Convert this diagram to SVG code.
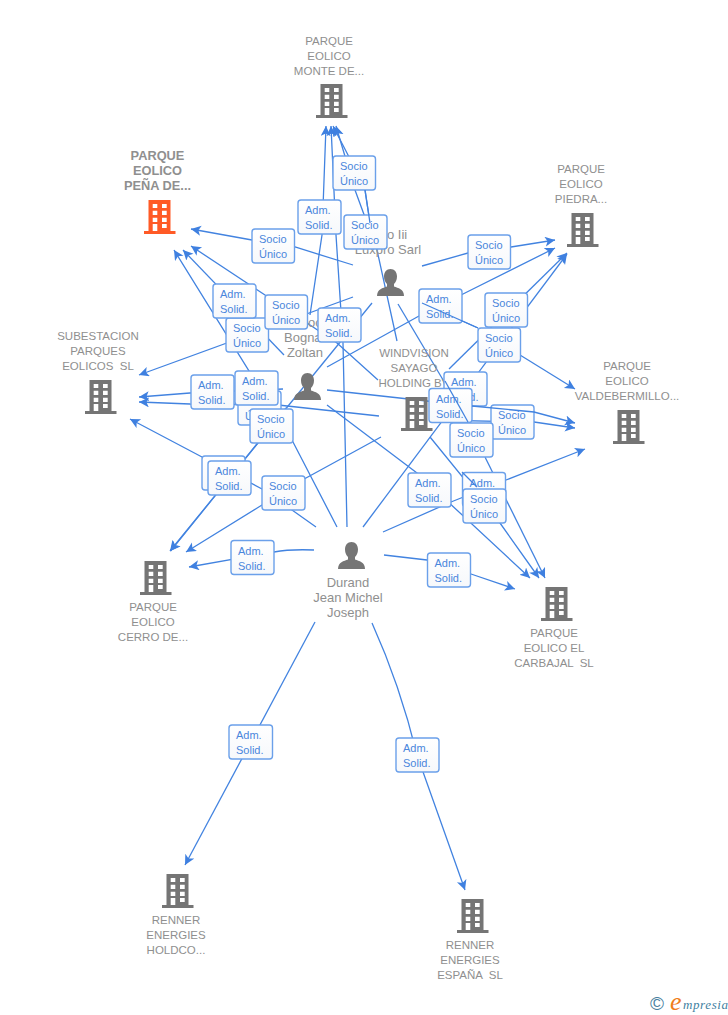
<svg xmlns="http://www.w3.org/2000/svg" width="728" height="1015" viewBox="0 0 728 1015">
<style>
text{font-family:"Liberation Sans",Arial,sans-serif}
.n{font-size:11.5px;fill:#8f8f8f;text-anchor:middle}
.nb{font-size:12.8px;font-weight:bold;fill:#8f8f8f;text-anchor:middle}
.p{font-size:13px;fill:#8f8f8f;text-anchor:middle}
.ps{font-size:13px;fill:#8f8f8f}
.c{fill:none;stroke:#4283e0;stroke-width:1.3;marker-end:url(#a)}
.o{fill:none;stroke:#4283e0;stroke-width:1.3}
.b{fill:url(#g);stroke:#6ba0ea;stroke-width:1.4}
.l{font-size:11px;fill:#4a86dc}
</style>
<defs>
<linearGradient id="g" x1="0" y1="0" x2="0" y2="1"><stop offset="0" stop-color="#fff"/><stop offset="1" stop-color="#f6f8fb"/></linearGradient>
<marker id="a" markerUnits="userSpaceOnUse" markerWidth="12" markerHeight="12" refX="10" refY="5" orient="auto"><path d="M0,0 L10,5 L0,10 L2.5,5 Z" fill="#3f80e0"/></marker>
<symbol id="bld" width="32" height="34" viewBox="0 0 32 34" overflow="visible">
<path fill-rule="evenodd" d="M4.500,0H26.500V31H31.500V34H0V31H4.500ZM8.700,4V8H13.300V4ZM18,4V8H22.700V4ZM8.700,10.700V15H13.300V10.700ZM18,10.700V15H22.700V10.700ZM8.700,17.700V22H13.300V17.700ZM18,17.700V22H22.700V17.700ZM8.700,24V31H13.300V24ZM18,24V28H22.700V24Z"/>
</symbol>
<symbol id="per" width="27" height="27" viewBox="0 0 27 27">
<path d="M13.500,0C17.500,0 20,3 20,7.500C20,11 18.500,13.500 17,15V17.500C21,19 27,20 27,27H0C0,20 6,19 10,17.500V15C8.500,13.500 7,11 7,7.500C7,3 9.500,0 13.500,0Z"/>
</symbol>
</defs>
<rect width="728" height="1015" fill="#fff"/>

<g id="connectors">
<path class="c" d="M310,315 L322,235 L326,126"/>
<path class="c" d="M347,527 L343,343 L336,235 L331,126"/>
<path class="c" d="M397,341 L377,250 L355,190 L336,126"/>
<path class="c" d="M370,223 L365,190 L348,155 L333,126"/>
<path class="c" d="M353,265 L295,247 L252,240 L191,229"/>
<path class="c" d="M378,380 L337,343 L265,295 L191,246"/>
<path class="c" d="M284,355 L183,250"/>
<path class="c" d="M337,527 L293,442 L174,250"/>
<path class="c" d="M353,297 L139,375"/>
<path class="c" d="M283,389 L190,393 L139,397"/>
<path class="c" d="M379,416 L278,405 L190,404 L139,402"/>
<path class="c" d="M316,527 L292,510 L262,489 L202,457 L130,419"/>
<path class="c" d="M372,303 L170,551"/>
<path class="c" d="M286,408 L170.500,551"/>
<path class="c" d="M381,437 L306,478 L262,505 L186,552"/>
<path class="c" d="M314,550 Q290,549 274,552 L189,567"/>
<path class="c" d="M315,622 L185,865"/>
<path class="c" d="M372,623 Q400,685 417,755 L465,890"/>
<path class="c" d="M384,555 L427,560 L471,574 L515,589"/>
<path class="c" d="M383,532 L451,502 L506,480 L585,449"/>
<path class="c" d="M363,527 L567,254"/>
<path class="c" d="M449,369 L567,253"/>
<path class="c" d="M327,367 L419,316 L463,294 L555,248"/>
<path class="c" d="M422,266 L468,253 L511,247 L555,240"/>
<path class="c" d="M520,355 L575,389"/>
<path class="c" d="M432,420 L534,422 L575,428"/>
<path class="o" d="M327,390 L472,406"/>
<path class="c" d="M327,405 L417,473 L530,578"/>
<path class="c" d="M430,437 L500,523 L539,578"/>
<path class="c" d="M485,457 L545,578"/>
<path class="o" d="M478,328 L422,303"/>
<path class="o" d="M398,304 L468,422"/>
</g>

<g id="node-monte"><use href="#bld" x="316" y="84" fill="#757575"/><text class="n" x="329" y="45">PARQUE</text><text class="n" x="329" y="60">EOLICO</text><text class="n" x="329" y="75">MONTE DE...</text></g>
<g id="node-pena"><use href="#bld" x="144" y="200" fill="#ff5a26"/><text class="nb" x="157.500" y="160">PARQUE</text><text class="nb" x="157.500" y="175">EOLICO</text><text class="nb" x="157.500" y="190">PEÑA DE...</text></g>
<g id="node-piedra"><use href="#bld" x="567" y="213" fill="#757575"/><text class="n" x="581" y="173">PARQUE</text><text class="n" x="581" y="188">EOLICO</text><text class="n" x="581" y="203">PIEDRA...</text></g>
<g id="node-subestacion"><use href="#bld" x="85" y="380" fill="#757575"/><text class="n" x="98" y="340">SUBESTACION</text><text class="n" x="98" y="355">PARQUES</text><text class="n" x="98" y="370" xml:space="preserve">EOLICOS  SL</text></g>
<g id="node-valdebermillo"><use href="#bld" x="613" y="410" fill="#757575"/><text class="n" x="627" y="370">PARQUE</text><text class="n" x="627" y="385">EOLICO</text><text class="n" x="627" y="400">VALDEBERMILLO...</text></g>
<g id="node-windvision"><use href="#bld" x="401" y="397" fill="#757575"/><text class="n" x="414" y="357">WINDVISION</text><text class="n" x="414" y="372">SAYAGO</text><text class="n" x="414" y="387">HOLDING BV</text></g>
<g id="node-cerro"><use href="#bld" x="140" y="561" fill="#757575"/><text class="n" x="153" y="611">PARQUE</text><text class="n" x="153" y="626">EOLICO</text><text class="n" x="153" y="641">CERRO DE...</text></g>
<g id="node-carbajal"><use href="#bld" x="541" y="587" fill="#757575"/><text class="n" x="554" y="637">PARQUE</text><text class="n" x="554" y="652">EOLICO EL</text><text class="n" x="554" y="667" xml:space="preserve">CARBAJAL  SL</text></g>
<g id="node-holdco"><use href="#bld" x="162" y="874" fill="#757575"/><text class="n" x="176" y="924">RENNER</text><text class="n" x="176" y="939">ENERGIES</text><text class="n" x="176" y="954">HOLDCO...</text></g>
<g id="node-espana"><use href="#bld" x="457" y="899" fill="#757575"/><text class="n" x="470" y="949">RENNER</text><text class="n" x="470" y="964">ENERGIES</text><text class="n" x="470" y="979" xml:space="preserve">ESPAÑA  SL</text></g>
<g id="node-luxpro"><use href="#per" x="377" y="269" fill="#757575"/><text class="ps" x="387" y="239">o Iii</text><text class="p" x="388" y="254">Luxpro Sarl</text></g>
<g id="node-bognar"><use href="#per" x="294" y="373" fill="#757575"/><text class="ps" x="308" y="327">oo</text><text class="ps" x="284" y="342">Bogna</text><text class="p" x="305" y="357">Zoltan</text></g>
<g id="node-durand"><use href="#per" x="338" y="542" fill="#757575"/><text class="p" x="348" y="587">Durand</text><text class="p" x="348" y="602">Jean Michel</text><text class="p" x="348" y="617">Joseph</text></g>

<g id="labels">
<g id="l1"><rect class="b" x="333" y="156" width="42.500" height="34" rx="3"/><text class="l" x="340" y="170">Socio</text><text class="l" x="340" y="185">Único</text></g>
<g id="l2"><rect class="b" x="298" y="200" width="43" height="34" rx="3"/><text class="l" x="305" y="214">Adm.</text><text class="l" x="305" y="229">Solid.</text></g>
<g id="l3"><rect class="b" x="344" y="215" width="43" height="34" rx="3"/><text class="l" x="351" y="229">Socio</text><text class="l" x="351" y="244">Único</text></g>
<g id="l4"><rect class="b" x="252" y="229" width="42.500" height="34" rx="3"/><text class="l" x="259" y="243">Socio</text><text class="l" x="259" y="258">Único</text></g>
<g id="l5"><rect class="b" x="468" y="235" width="42.500" height="34" rx="3"/><text class="l" x="475" y="249">Socio</text><text class="l" x="475" y="264">Único</text></g>
<g id="l6"><rect class="b" x="226" y="318" width="42.500" height="34" rx="3"/><text class="l" x="233" y="332">Socio</text><text class="l" x="233" y="347">Único</text></g>
<g id="l7"><rect class="b" x="213" y="284" width="43" height="34" rx="3"/><text class="l" x="220" y="298">Adm.</text><text class="l" x="220" y="313">Solid.</text></g>
<g id="l8"><rect class="b" x="265" y="295" width="42.500" height="34" rx="3"/><text class="l" x="272" y="309">Socio</text><text class="l" x="272" y="324">Único</text></g>
<g id="l9"><rect class="b" x="419" y="289" width="43" height="34" rx="3"/><text class="l" x="426" y="303">Adm.</text><text class="l" x="426" y="318">Solid.</text></g>
<g id="l10"><rect class="b" x="485" y="293" width="42.500" height="34" rx="3"/><text class="l" x="492" y="307">Socio</text><text class="l" x="492" y="322">Único</text></g>
<g id="l11"><rect class="b" x="318" y="308" width="43" height="34" rx="3"/><text class="l" x="325" y="322">Adm.</text><text class="l" x="325" y="337">Solid.</text></g>
<g id="l12"><rect class="b" x="478" y="328" width="42.500" height="34" rx="3"/><text class="l" x="485" y="342">Socio</text><text class="l" x="485" y="357">Único</text></g>
<g id="l13"><rect class="b" x="444" y="372" width="43" height="34" rx="3"/><text class="l" x="451" y="386">Adm.</text><text class="l" x="451" y="401">Solid.</text></g>
<g id="l14"><rect class="b" x="491" y="405" width="43" height="34" rx="3"/><text class="l" x="498" y="419">Socio</text><text class="l" x="498" y="434">Único</text></g>
<g id="l15"><rect class="b" x="429" y="388.500" width="43" height="34" rx="3"/><text class="l" x="436" y="402.500">Adm.</text><text class="l" x="436" y="417.500">Solid.</text></g>
<g id="l16"><rect class="b" x="191" y="375" width="43" height="34" rx="3"/><text class="l" x="198" y="389">Adm.</text><text class="l" x="198" y="404">Solid.</text></g>
<g id="l17"><rect class="b" x="238" y="391" width="43" height="34" rx="3"/><text class="l" x="245" y="405">Socio</text><text class="l" x="245" y="420">Único</text></g>
<g id="l18"><rect class="b" x="235" y="371" width="43" height="34" rx="3"/><text class="l" x="242" y="385">Adm.</text><text class="l" x="242" y="400">Solid.</text></g>
<g id="l19"><rect class="b" x="250" y="409" width="43" height="34" rx="3"/><text class="l" x="257" y="423">Socio</text><text class="l" x="257" y="438">Único</text></g>
<g id="l20"><rect class="b" x="450" y="423" width="43" height="34" rx="3"/><text class="l" x="457" y="437">Socio</text><text class="l" x="457" y="452">Único</text></g>
<g id="l21"><rect class="b" x="202" y="456" width="43" height="34" rx="3"/><text class="l" x="209" y="470">Adm.</text><text class="l" x="209" y="485">Solid.</text></g>
<g id="l22"><rect class="b" x="208" y="461" width="43" height="34" rx="3"/><text class="l" x="215" y="475">Adm.</text><text class="l" x="215" y="490">Solid.</text></g>
<g id="l23"><rect class="b" x="262" y="476" width="43" height="34" rx="3"/><text class="l" x="269" y="490">Socio</text><text class="l" x="269" y="505">Único</text></g>
<g id="l24"><rect class="b" x="408" y="473" width="43" height="34" rx="3"/><text class="l" x="415" y="487">Adm.</text><text class="l" x="415" y="502">Solid.</text></g>
<g id="l25"><rect class="b" x="462.500" y="472.500" width="43" height="34" rx="3"/><text class="l" x="469.500" y="486.500">Adm.</text><text class="l" x="469.500" y="501.500">Solid.</text></g>
<g id="l26"><rect class="b" x="463" y="489" width="43" height="34" rx="3"/><text class="l" x="470" y="503">Socio</text><text class="l" x="470" y="518">Único</text></g>
<g id="l27"><rect class="b" x="231" y="540.500" width="43" height="34" rx="3"/><text class="l" x="238" y="554.500">Adm.</text><text class="l" x="238" y="569.500">Solid.</text></g>
<g id="l28"><rect class="b" x="427.500" y="553" width="43" height="34" rx="3"/><text class="l" x="434.500" y="567">Adm.</text><text class="l" x="434.500" y="582">Solid.</text></g>
<g id="l29"><rect class="b" x="229" y="725" width="43.500" height="34" rx="3"/><text class="l" x="236" y="739">Adm.</text><text class="l" x="236" y="754">Solid.</text></g>
<g id="l30"><rect class="b" x="396" y="738" width="43" height="34" rx="3"/><text class="l" x="403" y="752">Adm.</text><text class="l" x="403" y="767">Solid.</text></g>
</g>

<g id="connectors-over">
<path class="o" d="M370,223 L365,190"/>
<path class="o" d="M422,303 L478,328"/>
<path class="o" d="M445,381 L468,422"/>
<path class="o" d="M462,472 L477,487"/>
<path class="c" d="M472,406 L534,412 L575,423"/>
</g>

<g id="logo"><text x="650" y="1010" font-size="19" fill="#4a7f9f">©</text><text x="670" y="1010" font-size="26" font-style="italic" fill="#f07d1a" style="font-family:'Liberation Serif',serif">e</text><text x="683" y="1009" font-size="13" font-style="italic" fill="#3f7f9f" style="font-family:'Liberation Serif',serif" letter-spacing=".6">mpresia</text></g>
</svg>
